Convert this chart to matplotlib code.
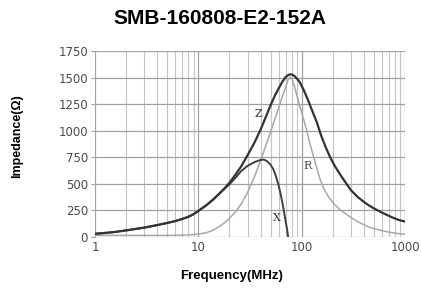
import matplotlib
matplotlib.use('Agg')
import matplotlib.pyplot as plt

# values (frequency in MHz, impedance in ohm)
freq_z = [1, 1.5, 2, 3, 4, 5, 6, 7, 8, 9, 10, 12, 14, 16, 18, 20, 23, 26, 30, 35, 40, 45,
          50, 55, 60, 65, 70, 75, 80, 85, 90, 96, 105, 115, 125, 140, 155, 170, 188, 210,
          235, 265, 300, 350, 400, 450, 520, 620, 750, 870, 1000]
z_vals = [30, 45, 62, 88, 112, 132, 150, 170, 190, 215, 245, 300, 355, 410, 460, 510, 590, 665,
          770, 890, 1010, 1130, 1240, 1330, 1400, 1460, 1505, 1528, 1530, 1515, 1490, 1455,
          1380, 1290, 1200, 1080, 950, 850, 753, 665, 590, 515, 440, 375, 330, 295, 260, 222,
          185, 160, 145]

freq_r = [1, 5, 7, 9, 10, 12, 14, 16, 18, 20, 23, 26, 30, 35, 40, 45, 50, 55, 60, 65, 70, 74,
          77, 80, 85, 90, 96, 105, 112, 120, 130, 140, 151, 165, 180, 203, 230, 260, 294, 340,
          400, 450, 550, 700, 850, 1000]
r_vals = [15, 15, 17, 22, 28, 40, 65, 100, 135, 175, 240, 310, 420, 570, 720, 860, 990, 1110,
          1220, 1320, 1410, 1480, 1505, 1490, 1420, 1330, 1230, 1100, 1000, 880, 760, 650, 540,
          450, 385, 316, 265, 225, 190, 150, 115, 92, 68, 45, 33, 25]

freq_x = [1, 1.5, 2, 3, 4, 5, 6, 7, 8, 9, 10, 12, 14, 16, 18, 20, 23, 26, 30, 35, 40, 43,
          46, 50, 53, 56, 60, 63, 66, 69, 72, 74]
x_vals = [30, 45, 62, 88, 112, 132, 150, 170, 190, 215, 245, 300, 355, 408, 455, 495, 560, 620,
          670, 705, 725, 728, 715, 680, 640, 580, 480, 390, 290, 180, 80, 0]

y_ticks = [0, 250, 500, 750, 1000, 1250, 1500, 1750]
x_ticks = [1, 10, 100, 1000]
x_tick_labels = ['1', '10', '100', '1000']


def main():
    fig = plt.figure(figsize=(4.21, 2.89), dpi=100)
    ax = fig.add_axes([0.2257, 0.18, 0.7363, 0.6435])

    ax.set_xscale('log')
    ax.set_xlim(1, 1000)
    ax.set_ylim(0, 1750)

    ax.plot(freq_r, r_vals, color='#a8a8a8', lw=1.1, zorder=3)
    ax.plot(freq_x, x_vals, color='#404040', lw=1.4, zorder=4)
    ax.plot(freq_z, z_vals, color='#333333', lw=1.6, zorder=5)

    ax.text(38, 1160, 'Z', family='DejaVu Serif', fontsize=8, color='#333333', ha='center', va='center')
    ax.text(113, 665, 'R', family='DejaVu Serif', fontsize=8, color='#444444', ha='center', va='center')
    ax.text(57.6, 178, 'X', family='DejaVu Serif', fontsize=8, color='#333333', ha='center', va='center')

    ax.set_yticks(y_ticks)
    ax.set_xticks(x_ticks)
    ax.set_xticklabels(x_tick_labels)
    ax.xaxis.set_minor_formatter(matplotlib.ticker.NullFormatter())
    ax.grid(True, which='major', color='#a0a0a0', lw=0.9)
    ax.grid(True, which='minor', axis='x', color='#c4c4c4', lw=0.8)
    ax.tick_params(which='both', length=0, labelsize=8.5, labelcolor='#4a4a4a', pad=3)
    ax.tick_params(axis='y', which='major', length=3, color='#a0a0a0', pad=2)
    for side in ['top', 'right', 'left', 'bottom']:
        ax.spines[side].set_visible(False)

    fig.text(0.523, 0.935, 'SMB-160808-E2-152A', family='Liberation Sans', fontweight='bold',
             fontsize=15, ha='center', va='center')
    fig.text(0.04, 0.53, 'Impedance(Ω)', family='Liberation Sans', fontweight='bold',
             fontsize=9, rotation=90, ha='center', va='center')
    fig.text(0.55, 0.045, 'Frequency(MHz)', family='Liberation Sans', fontweight='bold',
             fontsize=9.5, ha='center', va='center')

    fig.savefig('out.png', dpi=100)


if __name__ == '__main__':
    main()
